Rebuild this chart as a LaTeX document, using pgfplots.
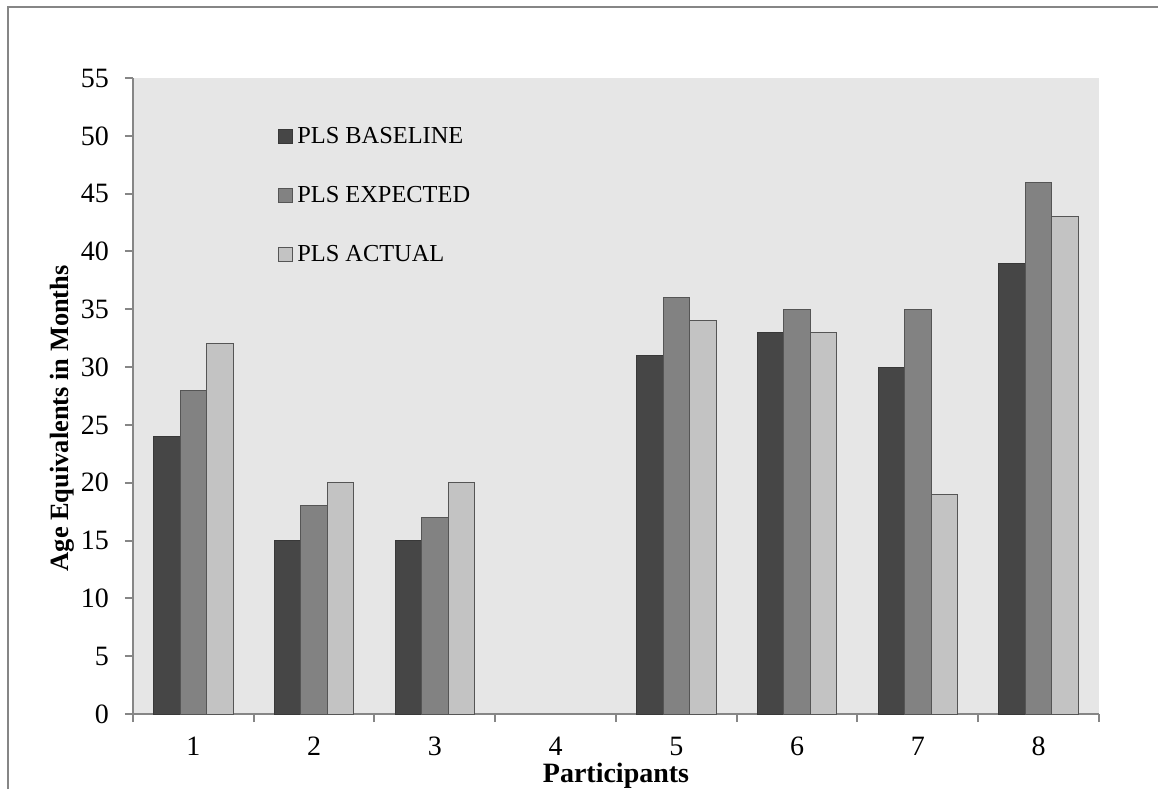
\documentclass[border=0pt]{standalone}
\usepackage{pgfplots}
\pgfplotsset{compat=1.18}
\usepackage{fontspec}
\setmainfont{Liberation Serif}

\definecolor{barA}{HTML}{464646}
\definecolor{barB}{HTML}{828282}
\definecolor{barC}{HTML}{C3C3C3}
\definecolor{edgeC}{HTML}{555555}
\definecolor{plotbg}{HTML}{E6E6E6}
\definecolor{axisgray}{HTML}{868686}

% participant, baseline, expected, actual (participant 4 has no scores)
\pgfplotstableread{
x base expect actual
1 24 28 32
2 15 18 20
3 15 17 20
4 nan nan nan
5 31 36 34
6 33 35 33
7 30 35 19
8 39 46 43
}\scores

\begin{document}
\begin{tikzpicture}
\useasboundingbox (0pt,0pt) rectangle (579pt,394.5pt);
% outer frame
\draw[axisgray, line width=1pt] (4pt,0pt) -- (4pt,391pt) -- (579pt,391pt);
\begin{axis}[
  at={(66.5pt,37.5pt)}, anchor=south west,
  scale only axis,
  width=483pt, height=318pt,
  ybar=0pt, bar width=13.25pt,
  xmin=0.5, xmax=8.5, ymin=0, ymax=55,
  xtick={1,...,8},
  minor xtick={0.5,1.5,...,8.5},
  ytick={0,5,...,55},
  major x tick style={draw=none},
  minor tick length=4pt, major tick length=4pt,
  tick align=outside,
  tick style={axisgray, line width=1pt},
  axis x line*=bottom, axis y line*=left,
  axis line style={axisgray, line width=1pt, -},
  axis background/.style={fill=plotbg},
  /pgf/number format/assume math mode=true,
  ticklabel style={font=\fontsize{14}{16}\selectfont},
  xticklabel style={yshift=-4pt},
  yticklabel style={xshift=-4.5pt},
  xlabel={\textbf{Participants}},
  ylabel={\textbf{Age Equivalents in Months}},
  xlabel style={font=\fontsize{14}{16}\selectfont,
    at={(axis description cs:0.5,0)}, anchor=center, yshift=-31pt},
  ylabel style={font=\fontsize{13.2}{15}\selectfont,
    at={(axis description cs:0,0.465)}, anchor=center, yshift=35.5pt},
  legend style={at={(axis description cs:0.15,0.93)}, anchor=north west,
    draw=none, fill=none, font=\fontsize{12.2}{14}\selectfont,
    row sep=16pt, inner sep=0pt},
  legend cell align=left,
  legend image code/.code={\draw[#1, ybar=0pt] (0pt,-3.5pt) rectangle (7pt,3.5pt);},
]
\addplot[fill=barA, draw=barA!80!black, line width=0.5pt] table[x=x, y=base] {\scores};
\addplot[fill=barB, draw=edgeC, line width=0.5pt] table[x=x, y=expect] {\scores};
\addplot[fill=barC, draw=edgeC, line width=0.5pt] table[x=x, y=actual] {\scores};
\legend{PLS BASELINE, PLS EXPECTED, PLS ACTUAL}
\end{axis}
\end{tikzpicture}
\end{document}
